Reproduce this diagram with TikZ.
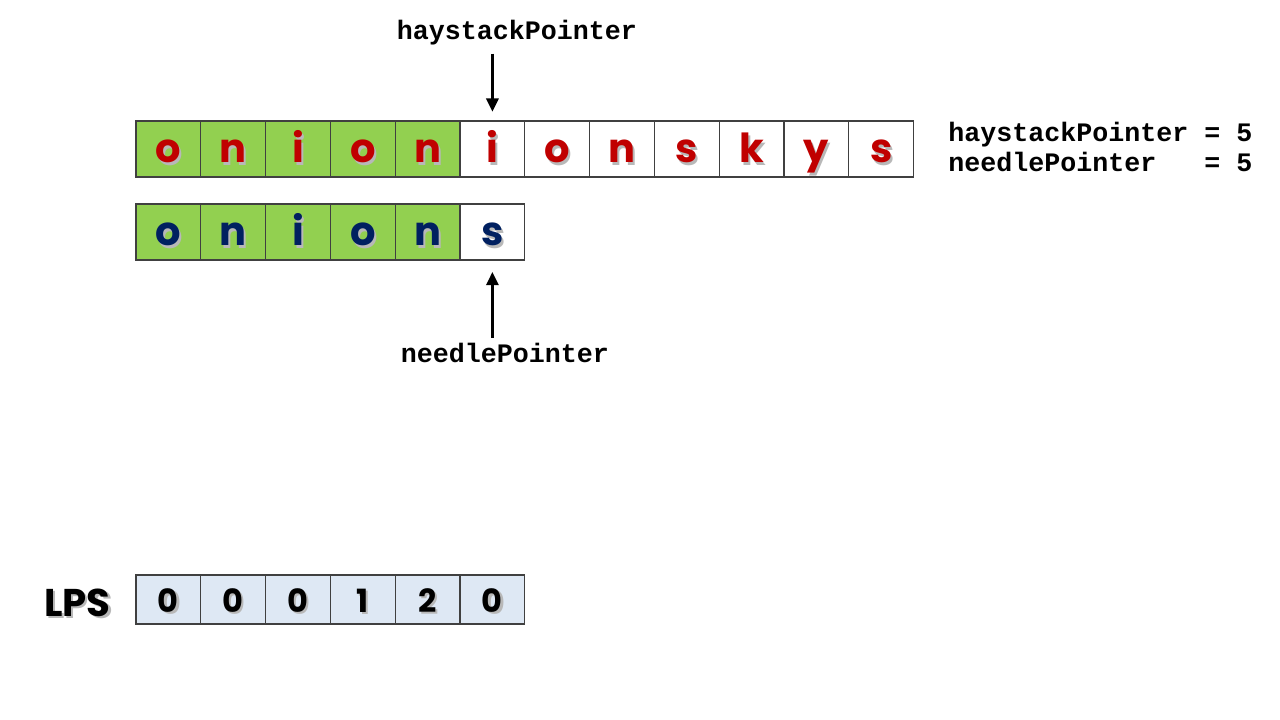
\documentclass[tikz,border=0pt]{standalone}
\usepackage{fontspec}
\setmainfont{Poppins}
\setmonofont{Liberation Mono}
\usepackage{xcolor}
\usepackage{tikz}
\usetikzlibrary{arrows.meta,positioning}
\definecolor{kmpRed}{HTML}{C00000}
\definecolor{kmpBlue}{HTML}{002060}
\definecolor{kmpGreen}{HTML}{92D050}
\definecolor{kmpLps}{HTML}{DEE8F4}
\definecolor{kmpLine}{HTML}{404040}
% letter with a soft drop shadow
\newcommand{\shd}[1]{\makebox[0pt][l]{\hspace{1.6pt}\raisebox{-1.6pt}{\textcolor{black!28}{#1}}}#1}
\tikzset{
  % character cell
  cell/.style={rectangle,draw=kmpLine,line width=0.8pt,
    minimum width=48.6pt,minimum height=42pt,inner sep=0pt,
    text height=21pt,text depth=0pt,
    font=\fontsize{30}{30}\selectfont\bfseries},
  % LPS table cell
  lcell/.style={cell,minimum height=36.75pt,fill=kmpLps,
    text height=18.8pt,text depth=0pt,
    font=\fontsize{24}{24}\selectfont\bfseries,text=black},
  % pointer labels
  ptr/.style={font=\fontsize{20}{22.5}\selectfont\ttfamily\bfseries,inner sep=0pt},
  % pointer arrows
  parr/.style={-{Triangle[length=10pt,width=9pt]},line width=2.3pt,color=black},
}
\begin{document}
\begin{tikzpicture}[x=0.75pt,y=-0.75pt]
  \useasboundingbox (0,0) rectangle (1280,720);

  % haystack
  \foreach \c [count=\i from 0] in {o,n,i,o,n}
    \node[cell,fill=kmpGreen,text=kmpRed] (h\i) at ({168.4+64.8*\i},149) {\shd{\c}};
  \foreach \c [count=\i from 5] in {i,o,n,s,k,y,s}
    \node[cell,fill=white,text=kmpRed] (h\i) at ({168.4+64.8*\i},149) {\shd{\c}};

  % needle
  \foreach \c [count=\i from 0] in {o,n,i,o,n}
    \node[cell,fill=kmpGreen,text=kmpBlue] (n\i) at ({168.4+64.8*\i},232) {\shd{\c}};
  \node[cell,fill=white,text=kmpBlue] (n5) at ({168.4+64.8*5},232) {\shd{s}};

  % LPS table
  \foreach \v [count=\i from 0] in {0,0,0,1,2,0}
    \node[lcell] (l\i) at ({168.4+64.8*\i},599.5) {\shd{\v}};
  \node[font=\fontsize{29}{29}\selectfont\bfseries,left=15pt of l0,yshift=-3pt] (lps) {\shd{LPS}};

  % pointers
  \node[ptr] (hpLbl) at (517,33) {haystackPointer};
  \node[ptr] (npLbl) at (505,353) {needlePointer};
  \draw[parr,shorten <=6pt,shorten >=6.5pt] (hpLbl.south -| h5) -- (h5.north);
  \draw[parr,shorten <=4pt,shorten >=8.5pt] (npLbl.north -| n5) -- (n5.south);

  % current values
  \node[ptr,align=left,anchor=west] (vals) at (948,147)
    {haystackPointer = 5\\needlePointer\phantom{xx} = 5};
\end{tikzpicture}
\end{document}
